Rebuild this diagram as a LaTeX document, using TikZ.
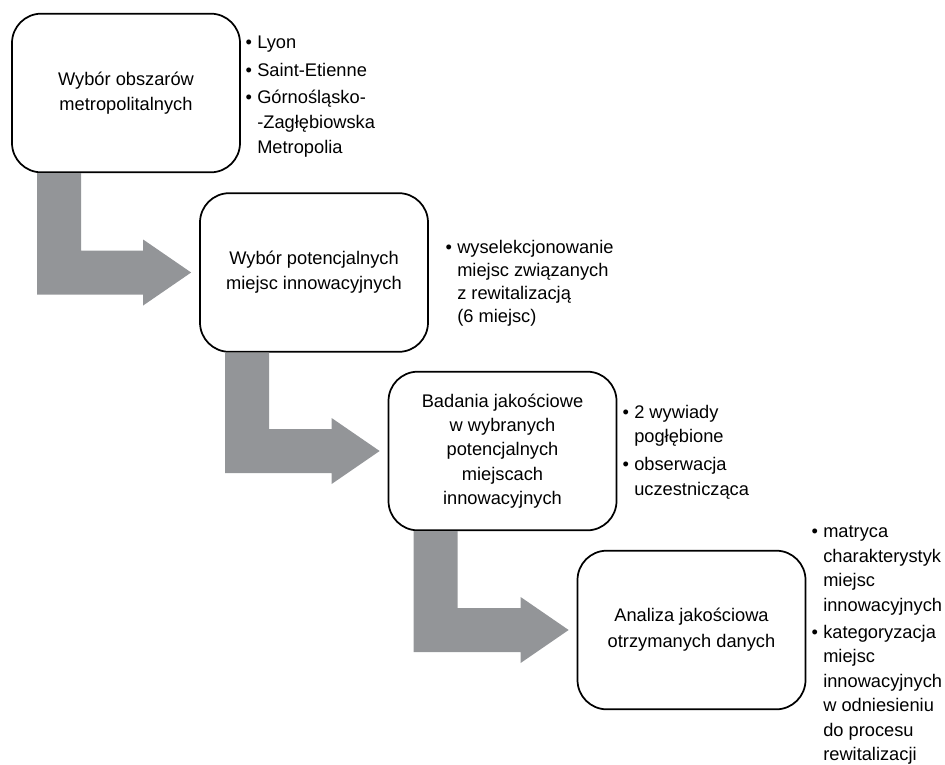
\documentclass[tikz,border=0pt]{standalone}
\usepackage{fontspec}
\setmainfont{Liberation Sans}
\usetikzlibrary{calc}
\definecolor{arrowgray}{RGB}{147,149,152}
\newcommand\bpt{\llap{\textbullet\hspace{4pt}}}
\newcommand\flowarrow[2]{%
 \fill[arrowgray] let \p1=(#1.south west), \p2=($(#2.west)+(-6pt,0)$) in
 (\x1+19.5pt,\y1) -- (\x1+52.5pt,\y1) -- (\x1+52.5pt,\y2+16.5pt) --
 (\x2-36pt,\y2+16.5pt) -- (\x2-36pt,\y2+24.75pt) -- (\x2,\y2) --
 (\x2-36pt,\y2-24.75pt) -- (\x2-36pt,\y2-16.5pt) -- (\x1+19.5pt,\y2-16.5pt) -- cycle;}
\begin{document}
\begin{tikzpicture}[x=0.75pt,y=-0.75pt,
  stepbox/.style={draw=black, line width=1.3pt, rounded corners=22pt,
    minimum width=171pt, minimum height=119pt, inner sep=0pt, align=center,
    font=\fontsize{13.7}{18.75}\selectfont},
  bullist/.style={anchor=base west, align=left, inner sep=0pt,
    font=\fontsize{13.7}{18.5}\selectfont}]
\useasboundingbox (0,0) rectangle (945,764);

\node[stepbox] (b1) at (126,93) {Wybór obszarów\\metropolitalnych};
\node[stepbox] (b2) at (314,272.5) {Wybór potencjalnych\\miejsc innowacyjnych};
\node[stepbox, font=\fontsize{13.7}{18.3}\selectfont] (b3) at (502.5,451)
  {Badania jakościowe\\w wybranych\\potencjalnych\\miejscach\\innowacyjnych};
\node[stepbox, font=\fontsize{13.7}{19.5}\selectfont] (b4) at (691.5,630) {Analiza jakościowa\\otrzymanych danych};

\flowarrow{b1}{b2}
\flowarrow{b2}{b3}
\flowarrow{b3}{b4}

% anchor base = baseline of the last line
\node[bullist] (l1) at (257,153)
  {\bpt Lyon\\[2.25pt]\bpt Saint-Etienne\\[2.25pt]\bpt Górnośląsko-\\-Zagłębiowska\\Metropolia};
\node[bullist, font=\fontsize{13.7}{17.25}\selectfont] (l2) at (457,322)
  {\bpt wyselekcjonowanie\\miejsc związanych\\z rewitalizacją\\(6 miejsc)};
\node[bullist] (l3) at (634,495)
  {\bpt 2 wywiady\\pogłębione\\[2.25pt]\bpt obserwacja\\uczestnicząca};
\node[bullist, font=\fontsize{13.7}{18.3}\selectfont] (l4) at (823,760.5)
  {\bpt matryca\\charakterystyk\\miejsc\\innowacyjnych\\[2.25pt]\bpt kategoryzacja\\miejsc\\innowacyjnych\\w odniesieniu\\do procesu\\rewitalizacji};
\end{tikzpicture}
\end{document}
